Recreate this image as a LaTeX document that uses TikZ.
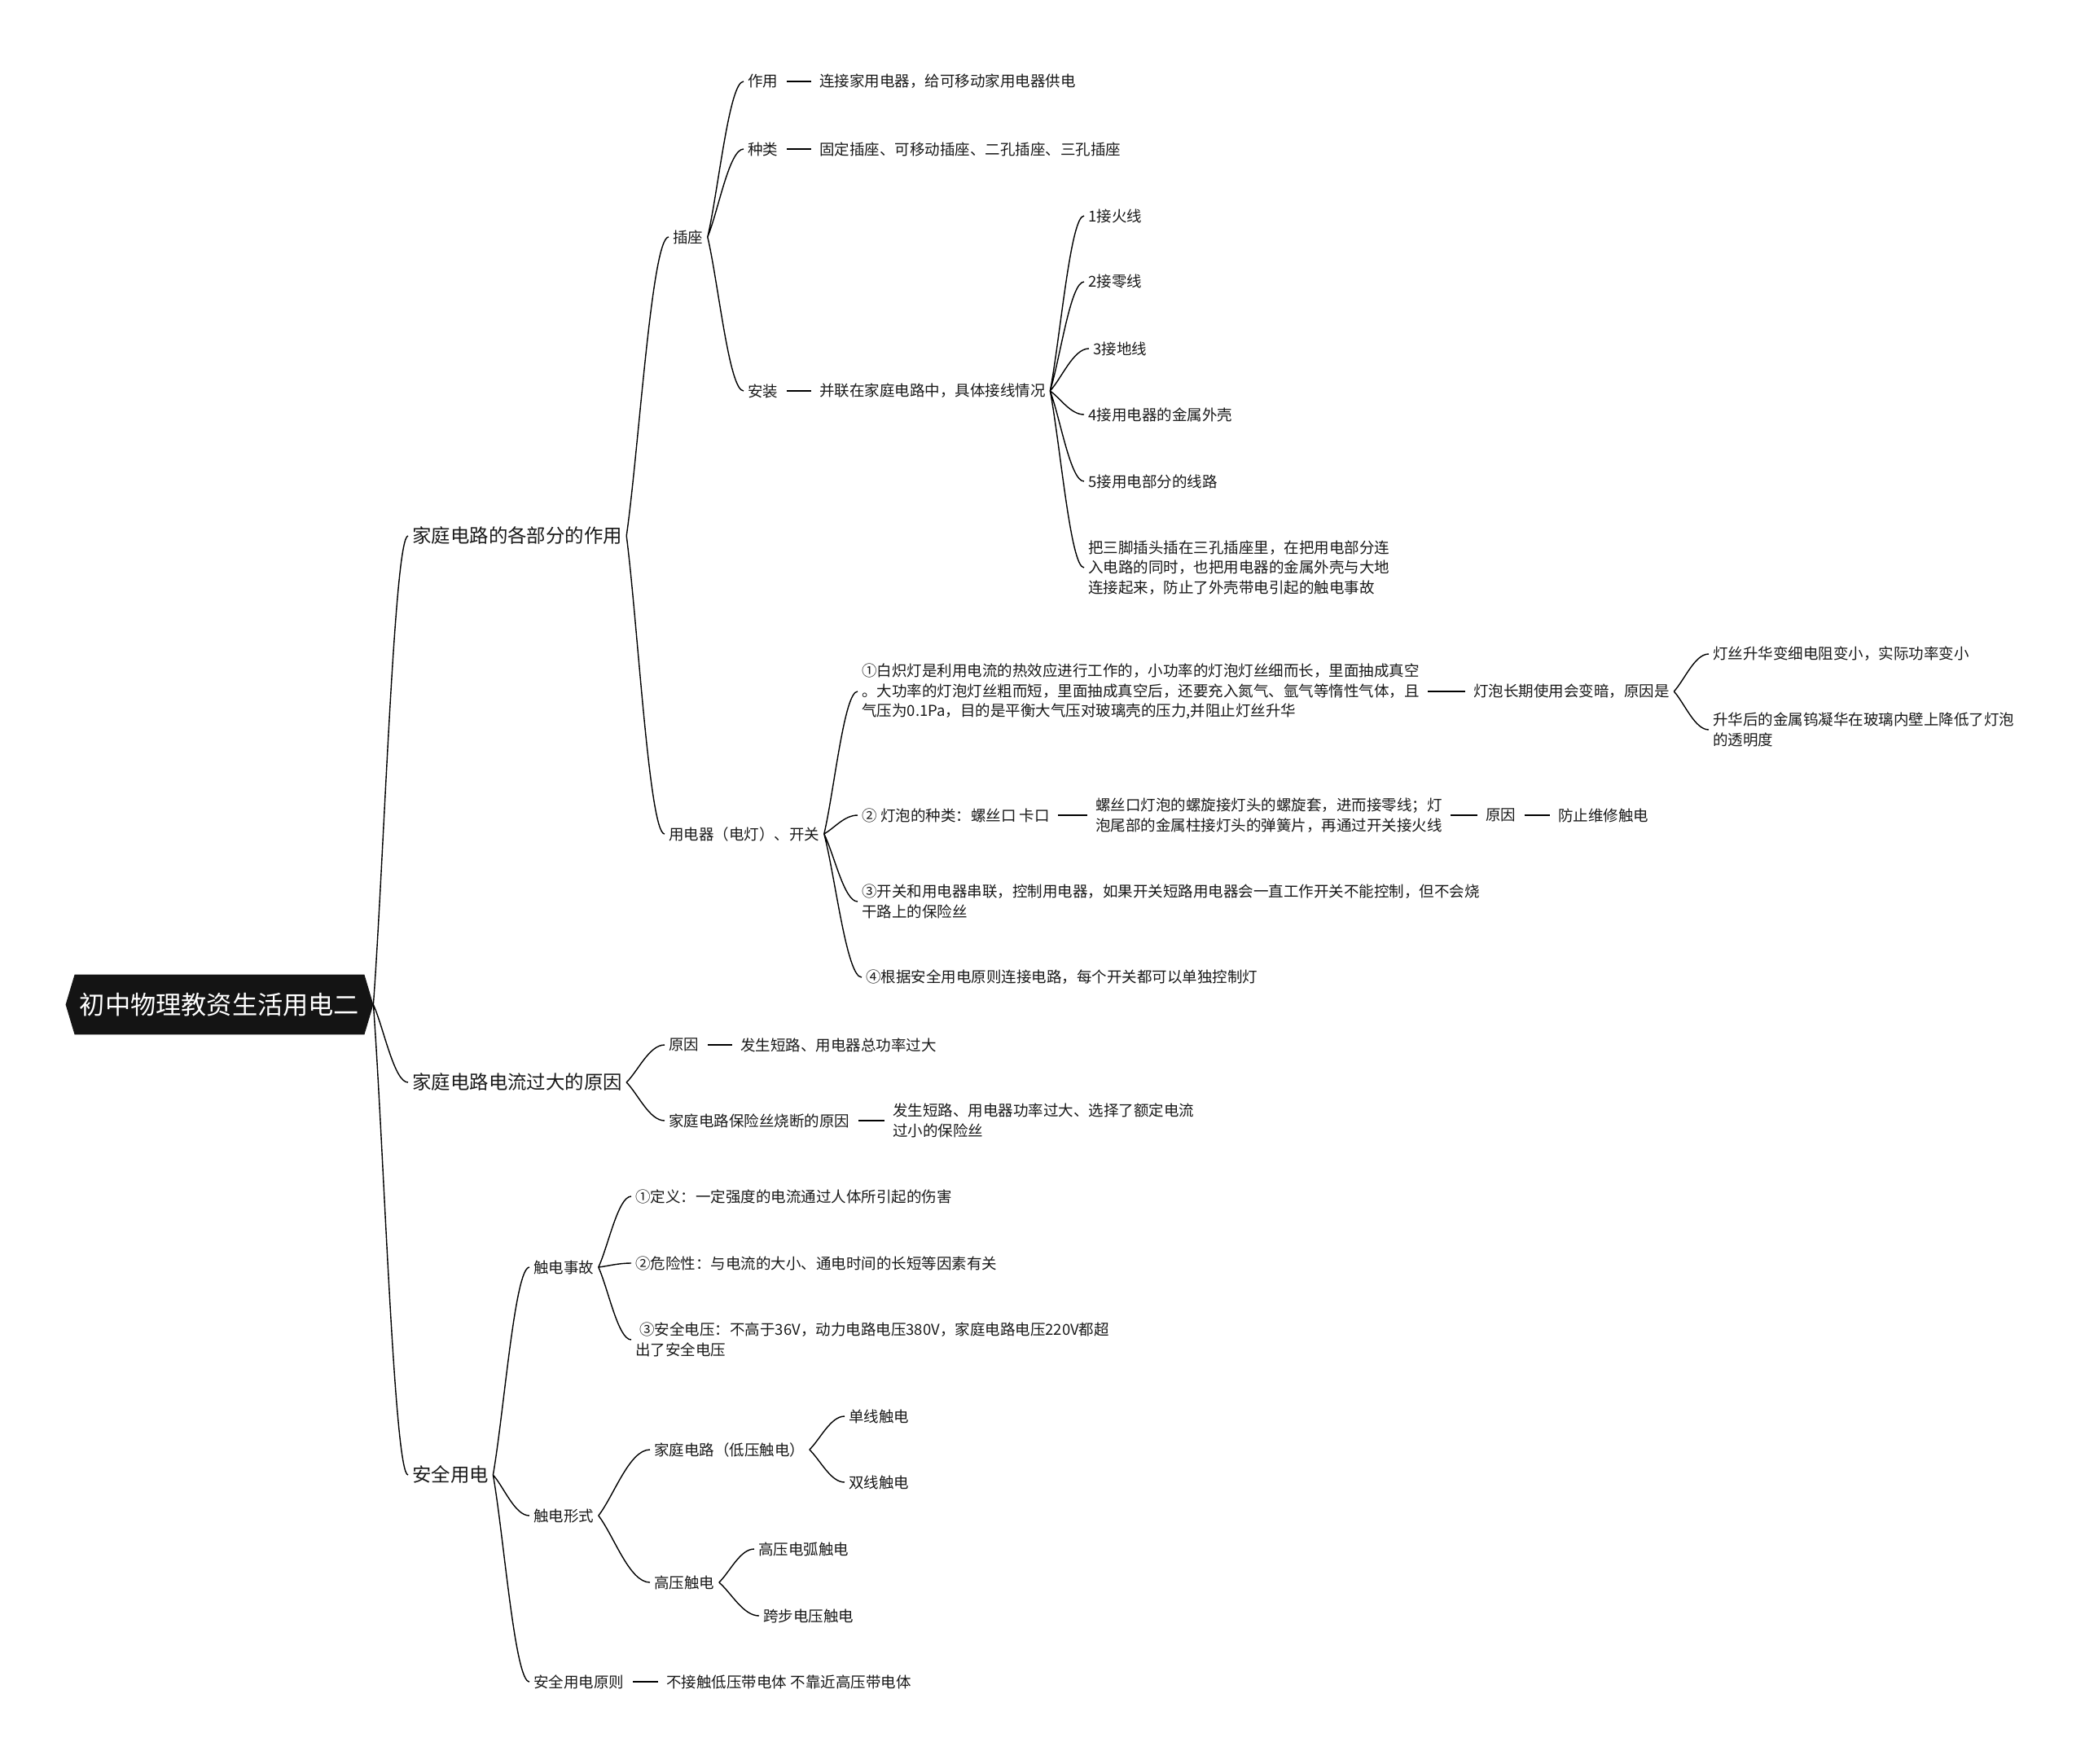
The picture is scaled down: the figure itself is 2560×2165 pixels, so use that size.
\documentclass[tikz,border=0pt]{standalone}
\usepackage{fontspec}
\setmainfont{Noto Sans CJK SC}
\usetikzlibrary{calc,backgrounds}
\begin{document}
\begin{tikzpicture}[x=0.5pt,y=-0.5pt,
  conn/.style={draw=black, line width=0.7pt},
  br/.style={to path={let \p1=(\tikztostart), \p2=(\tikztotarget) in .. controls ({\x1+0.3*(\x2-\x1)},{\y1+0.3*(\y2-\y1)}) and ({\x1+0.6*(\x2-\x1)},{\y2}) .. (\tikztotarget)}},
  dsh/.style={draw=black, line width=0.75pt, shorten <=2.5pt, shorten >=2.5pt},
  t/.style={anchor=west, inner xsep=2.5pt, inner ysep=1pt, align=left, font=\fontsize{9.25}{12.25}\selectfont, text=black!90},
  m/.style={t, font=\fontsize{11.7}{15}\selectfont},
  rootn/.style={text=white, font=\fontsize{15.6}{19}\selectfont, minimum width=188.5pt, minimum height=36.5pt, inner sep=0pt},
]
\useasboundingbox (0,0) rectangle (2560,2165);

% root
\node[rootn] (root) at (269.5,1233.5) {初中物理教资生活用电二};
\begin{scope}[on background layer]
\fill[black!92] (root.west) -- ([xshift=5.5pt]root.north west) -- ([xshift=-5.5pt]root.north east) -- (root.east) -- ([xshift=-5.5pt]root.south east) -- ([xshift=5.5pt]root.south west) -- cycle;
\end{scope}

% level 1
\node[m] (L1a) at (501,658) {家庭电路的各部分的作用};
\node[m] (L1b) at (501,1329) {家庭电路电流过大的原因};
\node[m] (L1c) at (501,1811) {安全用电};

% under L1a
\node[t] (cz) at (821,291) {插座};
\node[t] (yd) at (816,1024) {用电器（电灯）、开关};

\node[t] (zy) at (913,100) {作用};
\node[t] (zyt) at (1001,100) {连接家用电器，给可移动家用电器供电};
\node[t] (zl) at (913,183) {种类};
\node[t] (zlt) at (1001,183) {固定插座、可移动插座、二孔插座、三孔插座};
\node[t] (az) at (913,480) {安装};
\node[t] (azt) at (1001,480) {并联在家庭电路中，具体接线情况};

\node[t] (s1) at (1331,265) {1接火线};
\node[t] (s2) at (1331,346) {2接零线};
\node[t] (s3) at (1337,428) {3接地线};
\node[t] (s4) at (1331,509) {4接用电器的金属外壳};
\node[t] (s5) at (1331,591) {5接用电部分的线路};
\node[t] (s6) at (1331,697) {把三脚插头插在三孔插座里，在把用电部分连\\入电路的同时，也把用电器的金属外壳与大地\\连接起来，防止了外壳带电引起的触电事故};

\node[t] (u1) at (1053,849) {①白炽灯是利用电流的热效应进行工作的，小功率的灯泡灯丝细而长，里面抽成真空\\。大功率的灯泡灯丝粗而短，里面抽成真空后，还要充入氮气、氩气等惰性气体，且\\气压为0.1Pa，目的是平衡大气压对玻璃壳的压力,并阻止灯丝升华};
\node[t] (u2) at (1053,1001) {② 灯泡的种类：螺丝口 卡口};
\node[t] (u3) at (1053,1107) {③开关和用电器串联，控制用电器，如果开关短路用电器会一直工作开关不能控制，但不会烧\\干路上的保险丝};
\node[t] (u4) at (1058,1200) {④根据安全用电原则连接电路，每个开关都可以单独控制灯};

\node[t] (g1) at (1804,849) {灯泡长期使用会变暗，原因是};
\node[t] (h1) at (2098,803) {灯丝升华变细电阻变小，实际功率变小};
\node[t] (h2) at (2098,896) {升华后的金属钨凝华在玻璃内壁上降低了灯泡\\的透明度};

\node[t] (v1) at (1340,1001) {螺丝口灯泡的螺旋接灯头的螺旋套，进而接零线；灯\\泡尾部的金属柱接灯头的弹簧片，再通过开关接火线};
\node[t] (v2) at (1819,1001) {原因};
\node[t] (v3) at (1908,1001) {防止维修触电};

% under L1b
\node[t] (r1) at (816,1283) {原因};
\node[t] (r1t) at (904,1283) {发生短路、用电器总功率过大};
\node[t] (r2) at (816,1376) {家庭电路保险丝烧断的原因};
\node[t] (r2t) at (1091,1376) {发生短路、用电器功率过大、选择了额定电流\\过小的保险丝};

% under L1c
\node[t] (a1) at (650,1556) {触电事故};
\node[t] (a2) at (650,1861) {触电形式};
\node[t] (a3) at (650,2065) {安全用电原则};
\node[t] (a3t) at (813,2065) {不接触低压带电体 不靠近高压带电体};

\node[t] (c1) at (775,1469) {①定义：一定强度的电流通过人体所引起的伤害};
\node[t] (c2) at (775,1551) {②危险性：与电流的大小、通电时间的长短等因素有关};
\node[t] (c3) at (775,1645) {\hspace*{2.5pt}③安全电压：不高于36V，动力电路电压380V，家庭电路电压220V都超\\出了安全电压};

\node[t] (b1) at (798,1780) {家庭电路（低压触电）};
\node[t] (b2) at (798,1943) {高压触电};
\node[t] (d1) at (1037,1739) {单线触电};
\node[t] (d2) at (1037,1820) {双线触电};
\node[t] (e1) at (926,1902) {高压电弧触电};
\node[t] (e2) at (932,1984) {跨步电压触电};

% curved connectors
\draw[conn] (root.east) to[br] (L1a.west) (root.east) to[br] (L1b.west) (root.east) to[br] (L1c.west);
\draw[conn] (L1a.east) to[br] (cz.west) (L1a.east) to[br] (yd.west);
\draw[conn] (cz.east) to[br] (zy.west) (cz.east) to[br] (zl.west) (cz.east) to[br] (az.west);
\draw[conn] (azt.east) to[br] (s1.west) (azt.east) to[br] (s2.west) (azt.east) to[br] (s3.west)
            (azt.east) to[br] (s4.west) (azt.east) to[br] (s5.west) (azt.east) to[br] (s6.west);
\draw[conn] (yd.east) to[br] (u1.west) (yd.east) to[br] (u2.west) (yd.east) to[br] (u3.west) (yd.east) to[br] (u4.west);
\draw[conn] (g1.east) to[br] (h1.west) (g1.east) to[br] (h2.west);
\draw[conn] (L1b.east) to[br] (r1.west) (L1b.east) to[br] (r2.west);
\draw[conn] (L1c.east) to[br] (a1.west) (L1c.east) to[br] (a2.west) (L1c.east) to[br] (a3.west);
\draw[conn] (a1.east) to[br] (c1.west) (a1.east) to[br] (c2.west) (a1.east) to[br] (c3.west);
\draw[conn] (a2.east) to[br] (b1.west) (a2.east) to[br] (b2.west);
\draw[conn] (b1.east) to[br] (d1.west) (b1.east) to[br] (d2.west);
\draw[conn] (b2.east) to[br] (e1.west) (b2.east) to[br] (e2.west);

% straight connectors
\draw[dsh] (zy) -- (zyt);
\draw[dsh] (zl) -- (zlt);
\draw[dsh] (az) -- (azt);
\draw[dsh] (u1) -- (g1);
\draw[dsh] (u2) -- (v1);
\draw[dsh] (v1) -- (v2);
\draw[dsh] (v2) -- (v3);
\draw[dsh] (r1) -- (r1t);
\draw[dsh] (r2) -- (r2t);
\draw[dsh] (a3) -- (a3t);
\end{tikzpicture}
\end{document}
